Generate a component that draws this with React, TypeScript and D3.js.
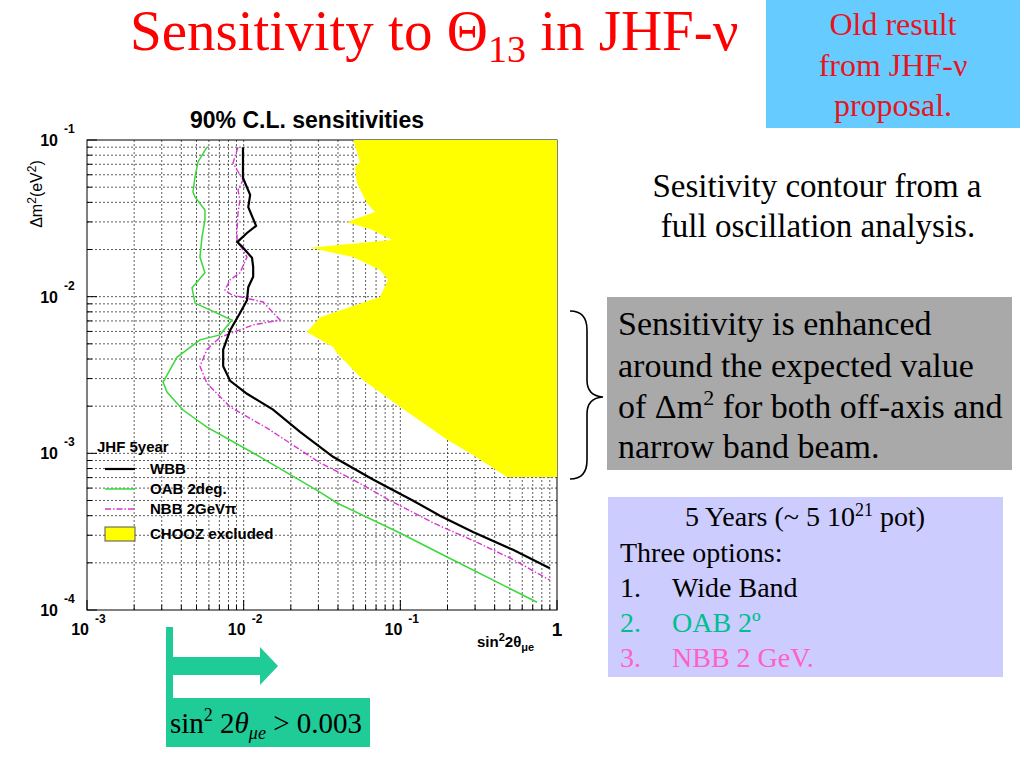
import React from 'react';
import * as d3 from 'd3';

type Pt = [number, number];

// sin^2 2theta vs dm^2 (eV^2)
const wbbCurve: Pt[] = [
  [0.0099, 0.090], [0.0099, 0.0572], [0.0110, 0.0446], [0.0107, 0.0373], [0.0120, 0.0283],
  [0.0105, 0.0255], [0.0091, 0.0223], [0.0098, 0.0208], [0.0113, 0.0177], [0.0115, 0.0155],
  [0.0115, 0.0134], [0.0107, 0.0115], [0.0105, 0.0095], [0.0095, 0.0079], [0.0082, 0.0061],
  [0.0074, 0.0046], [0.0074, 0.0036], [0.0082, 0.0029], [0.0105, 0.0024], [0.0154, 0.0019],
  [0.0229, 0.00137], [0.0372, 0.00095], [0.0669, 0.00068], [0.120, 0.00050], [0.179, 0.00040],
  [0.291, 0.000315], [0.524, 0.000242], [0.90, 0.000185],
];

const oabCurve: Pt[] = [
  [0.00583, 0.090], [0.00511, 0.0724], [0.00489, 0.058], [0.00475, 0.0466], [0.00489, 0.0433],
  [0.00566, 0.0357], [0.00566, 0.0309], [0.00542, 0.024], [0.00526, 0.0179], [0.00566, 0.0142],
  [0.00504, 0.0124], [0.00468, 0.0114], [0.00489, 0.0091], [0.00842, 0.0071], [0.00706, 0.0057],
  [0.00526, 0.0053], [0.00375, 0.0041], [0.00306, 0.00285], [0.00324, 0.00246], [0.0041, 0.00189],
  [0.00583, 0.00147], [0.0115, 0.001005], [0.0307, 0.000566], [0.0394, 0.000482], [0.0995, 0.00031],
  [0.199, 0.000218], [0.48, 0.00014], [0.745, 0.000112],
];

const nbbCurve: Pt[] = [
  [0.0092, 0.090], [0.00855, 0.0713], [0.00947, 0.0598], [0.0099, 0.0556], [0.0092, 0.048],
  [0.00947, 0.0414], [0.0092, 0.0342], [0.00907, 0.0266], [0.00907, 0.023], [0.0105, 0.0179],
  [0.00947, 0.0142], [0.00818, 0.0128], [0.0076, 0.0110], [0.00842, 0.01025], [0.0133, 0.00925],
  [0.0171, 0.0071], [0.0115, 0.0066], [0.00706, 0.0055], [0.00583, 0.0046], [0.00526, 0.0036],
  [0.00583, 0.0028], [0.00818, 0.00198], [0.0141, 0.00145], [0.0307, 0.00087], [0.0499, 0.00068],
  [0.0859, 0.0005], [0.162, 0.00036], [0.309, 0.00027], [0.524, 0.00021], [0.90, 0.000155],
];

// CHOOZ excluded region outline (closed along right and top edge)
const choozEdge: Pt[] = [
  [0.050, 0.1], [0.0553, 0.0724], [0.0514, 0.0673], [0.0528, 0.0532], [0.0612, 0.0396],
  [0.0689, 0.0347], [0.0457, 0.030], [0.0659, 0.0267], [0.0885, 0.023], [0.0265, 0.0205],
  [0.050, 0.0179], [0.0741, 0.0148], [0.0834, 0.0128], [0.0741, 0.00995], [0.0307, 0.0074],
  [0.0253, 0.00595], [0.0372, 0.00477], [0.0394, 0.00437], [0.0578, 0.00294], [0.0995, 0.00198],
  [0.199, 0.00122], [0.291, 0.000975], [0.48, 0.000707], [1, 0.000707], [1, 0.1],
];

const xMajor = [1e-3, 1e-2, 1e-1];
const xMajorExp = ['-3', '-2', '-1'];
const yMajor = [1e-1, 1e-2, 1e-3, 1e-4];
const yMajorExp = ['-1', '-2', '-3', '-4'];

const legendItems = [
  { label: 'WBB', color: '#000', width: 2.2, dash: '' },
  { label: 'OAB 2deg.', color: '#3ad83a', width: 1.5, dash: '' },
  { label: 'NBB 2GeV\u03c0', color: '#d836d8', width: 1.4, dash: '6,2,1.5,2' },
];

const serif = '"Liberation Serif", "Times New Roman", serif';
const sans = '"Liberation Sans", Arial, sans-serif';
const teal = '#1fcb97';

export default function App() {
  const left = 87, right = 557, top = 140, bottom = 610;
  const x = d3.scaleLog().domain([1e-3, 1]).range([left, right]);
  const y = d3.scaleLog().domain([1e-4, 1e-1]).range([bottom, top]);
  const line = d3.line<Pt>().x(d => x(d[0])).y(d => y(d[1]));

  const xGrid = x.ticks();
  const yGrid = y.ticks();

  return (
    <svg width={1024} height={768} style={{ position: 'absolute', left: 0, top: 0, background: '#fff' }}>
      {/* slide title */}
      <text x={130} y={50} fontFamily={serif} fontSize={57} fill="#ff0000">
        Sensitivity to Θ<tspan fontSize={38} dy={12}>13</tspan>
        <tspan dy={-12}> in JHF-ν</tspan>
      </text>

      {/* blue note */}
      <rect x={766} y={0} width={254} height={128} fill="#66ccff" />
      <g fontFamily={serif} fontSize={32} fill="#e8141e" textAnchor="middle">
        <text x={893} y={35}>Old result</text>
        <text x={893} y={76}>from JHF-ν</text>
        <text x={893} y={116}>proposal.</text>
      </g>

      <g fontFamily={serif} fontSize={33} fill="#000" textAnchor="middle">
        <text x={817} y={197}>Sesitivity contour from a</text>
        <text x={818} y={237}>full oscillation analysis.</text>
      </g>

      {/* grey note with brace */}
      <path d="M570,311 Q587,311 587,330 L587,380 Q587,396 603,397 Q587,398 587,414 L587,460 Q587,479 570,479"
        fill="none" stroke="#000" strokeWidth={1.6} />
      <rect x={607} y={297} width={405} height={173} fill="#a9a9a9" />
      <g fontFamily={serif} fontSize={34} fill="#000">
        <text x={618} y={335}>Sensitivity is enhanced</text>
        <text x={618} y={377}>around the expected value</text>
        <text x={618} y={418}>of Δm<tspan fontSize={22} dy={-13}>2</tspan><tspan dy={13}> for both off-axis and</tspan></text>
        <text x={618} y={458}>narrow band beam.</text>
      </g>

      {/* lavender note */}
      <rect x={608} y={497} width={395} height={180} fill="#ccccff" />
      <g fontFamily={serif} fontSize={28}>
        <text x={805} y={526} textAnchor="middle">5 Years (~ 5 10<tspan fontSize={18} dy={-10}>21</tspan><tspan dy={10}> pot)</tspan></text>
        <text x={620} y={562}>Three options:</text>
        <text x={620} y={597}>1.</text>
        <text x={672} y={597}>Wide Band</text>
        <text x={620} y={632} fill="#00bf8f">2.</text>
        <text x={672} y={632} fill="#00bf8f">OAB 2º</text>
        <text x={620} y={667} fill="#ff5fcc">3.</text>
        <text x={672} y={667} fill="#ff5fcc">NBB 2 GeV.</text>
      </g>

      {/* grid */}
      <g stroke="#333" strokeWidth={0.8} strokeDasharray="2,2">
        {xGrid.filter(v => v > 1e-3 && v < 1).map((v, i) => (
          <line key={'gx' + i} x1={x(v)} x2={x(v)} y1={top} y2={bottom} />
        ))}
        {yGrid.filter(v => v > 1e-4 && v < 1e-1).map((v, i) => (
          <line key={'gy' + i} x1={left} x2={right} y1={y(v)} y2={y(v)} />
        ))}
      </g>

      {/* ticks */}
      <g stroke="#000" strokeWidth={1}>
        {xGrid.map((v, i) => {
          const major = xMajor.includes(v) || v === 1;
          return <line key={'tx' + i} x1={x(v)} x2={x(v)} y1={bottom} y2={bottom - (major ? 10 : 5)} />;
        })}
        {yGrid.map((v, i) => {
          const major = yMajor.includes(v);
          return <line key={'ty' + i} x1={left} x2={left + (major ? 10 : 5)} y1={y(v)} y2={y(v)} />;
        })}
      </g>
      <rect x={left} y={top} width={right - left} height={bottom - top} fill="none" stroke="#000" strokeWidth={1} />

      {/* CHOOZ excluded */}
      <path d={line(choozEdge) + 'Z'} fill="#ffff00" />

      {/* contours */}
      <path d={line(oabCurve) ?? ''} fill="none" stroke={legendItems[1].color} strokeWidth={legendItems[1].width} />
      <path d={line(nbbCurve) ?? ''} fill="none" stroke={legendItems[2].color} strokeWidth={legendItems[2].width} strokeDasharray={legendItems[2].dash} />
      <path d={line(wbbCurve) ?? ''} fill="none" stroke="#000" strokeWidth={2.2} />

      {/* axis labels */}
      <g fontFamily={sans} fontWeight="bold" fill="#000">
        {xMajor.map((v, i) => (
          <g key={'lx' + i}>
            <text x={x(v) + 2} y={635} fontSize={16} textAnchor="end">10</text>
            <text x={x(v) + 8} y={623} fontSize={12}>{xMajorExp[i]}</text>
          </g>
        ))}
        <text x={x(1)} y={636} fontSize={19} textAnchor="middle">1</text>
        {yMajor.map((v, i) => (
          <g key={'ly' + i}>
            <text x={58} y={y(v) + 6} fontSize={16} textAnchor="end">10</text>
            <text x={64} y={y(v) - 7} fontSize={12}>{yMajorExp[i]}</text>
          </g>
        ))}
        <text x={477} y={647} fontSize={15}>sin<tspan fontSize={11} dy={-6}>2</tspan><tspan dy={6}>2θ</tspan><tspan fontSize={11} dy={4}>μe</tspan></text>
        <text x={307} y={128} fontSize={23} textAnchor="middle">90% C.L. sensitivities</text>
      </g>
      <text transform="translate(42,194) rotate(-90)" fontFamily={sans} fontSize={16} textAnchor="middle">
        Δm<tspan fontSize={12} dy={-6}>2</tspan><tspan dy={6}>(eV</tspan><tspan fontSize={12} dy={-6}>2</tspan><tspan dy={6}>)</tspan>
      </text>

      {/* legend */}
      <g fontFamily={sans} fontSize={15} fontWeight="bold" fill="#000">
        <text x={97} y={452}>JHF 5year</text>
        {legendItems.map((d, i) => (
          <g key={d.label}>
            <line x1={105} x2={135} y1={469 + i * 20} y2={469 + i * 20} stroke={d.color} strokeWidth={d.width} strokeDasharray={d.dash} />
            <text x={150} y={474 + i * 20}>{d.label}</text>
          </g>
        ))}
        <rect x={105} y={527} width={30} height={14} fill="#ffff00" stroke="#555" strokeWidth={1} />
        <text x={150} y={539}>CHOOZ excluded</text>
      </g>

      {/* teal marker for sin^2 2theta > 0.003 */}
      <rect x={166} y={627} width={7} height={72} fill={teal} />
      <path d="M173,657 L260,657 L260,647 L278,666 L260,685 L260,675 L173,675 Z" fill={teal} />
      <rect x={166} y={698} width={204} height={49} fill={teal} />
      <text x={170} y={733} fontFamily={serif} fontSize={29} fill="#000">
        sin<tspan fontSize={18} dy={-12}>2</tspan><tspan dy={12}> 2</tspan><tspan fontStyle="italic">θ</tspan>
        <tspan fontSize={18} fontStyle="italic" dy={6}>μe</tspan><tspan dy={-6}> &gt; 0.003</tspan>
      </text>
    </svg>
  );
}
